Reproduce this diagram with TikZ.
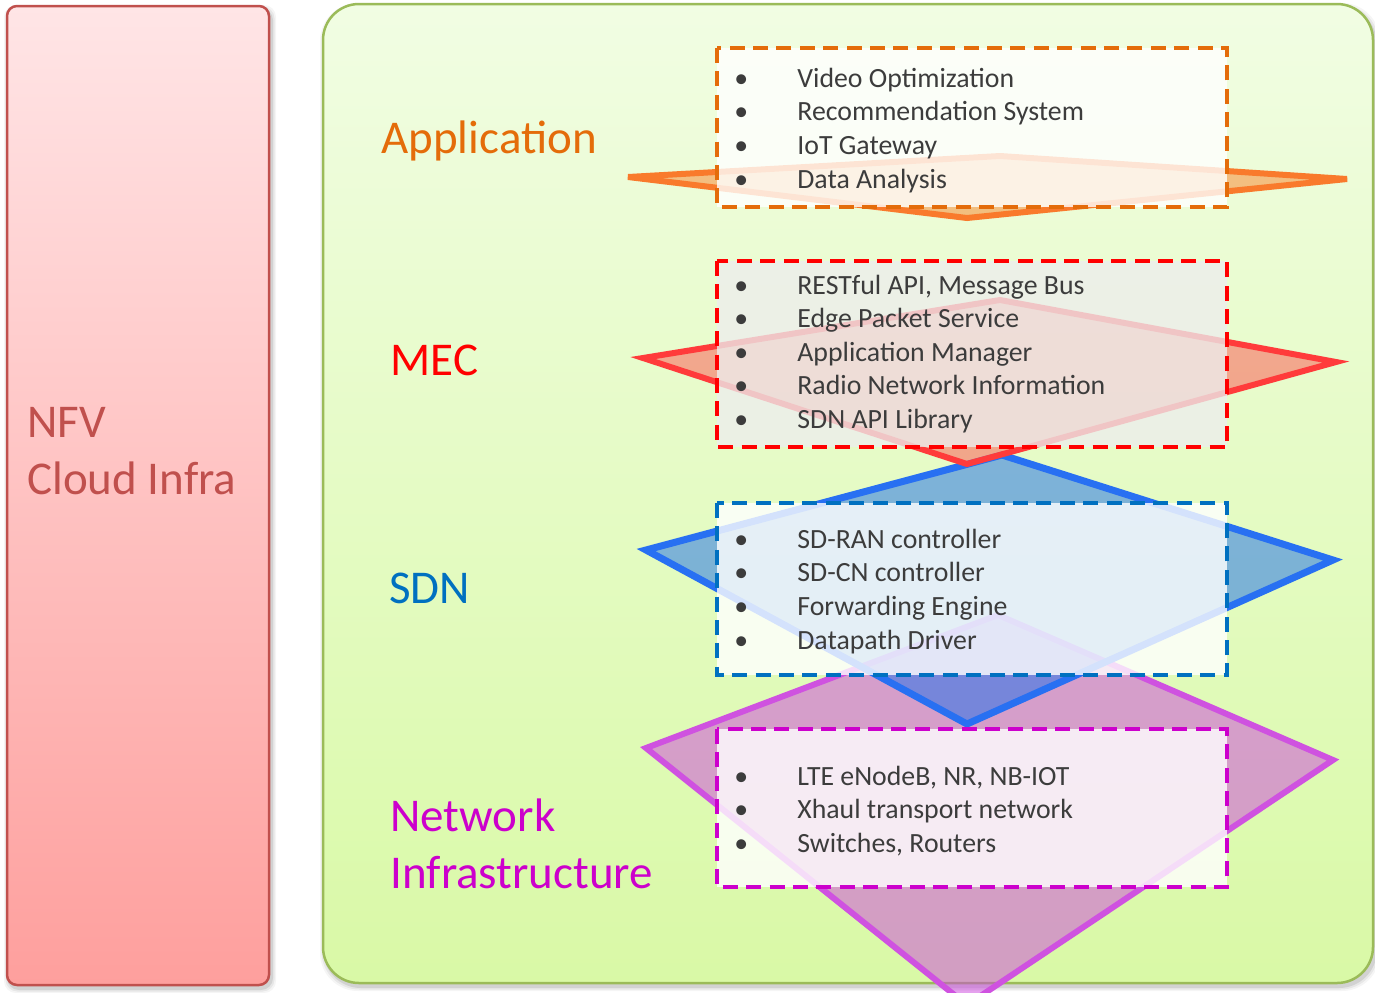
\documentclass[tikz,border=0pt]{standalone}
\usepackage{fontspec}
\setmainfont{Carlito}
\definecolor{txt}{HTML}{3C3C3C}
\definecolor{nfvC}{HTML}{C0504D}
\definecolor{appC}{HTML}{E46C0A}
\definecolor{mecC}{HTML}{FF0000}
\definecolor{sdnC}{HTML}{0070C0}
\definecolor{infC}{HTML}{CC00CC}
\definecolor{pinkTop}{HTML}{FFE5E6}
\definecolor{pinkBot}{HTML}{FE9F9D}
\definecolor{greenTop}{HTML}{F1FDE3}
\definecolor{greenBot}{HTML}{D9F9A6}
\definecolor{greenEdge}{HTML}{9BBB59}
\definecolor{oEdge}{HTML}{F97A2C}
\definecolor{oFill}{HTML}{F79646}
\definecolor{rEdge}{HTML}{FF3B3B}
\definecolor{rFill}{HTML}{FF4040}
\definecolor{bEdge}{HTML}{2870F2}
\definecolor{bFill}{HTML}{1F70EA}
\definecolor{mEdge}{HTML}{CF52E0}
\definecolor{mFill}{HTML}{CC44DD}
\newcommand\blt{\makebox[0pt]{•}\hspace{28pt}}
\begin{document}
\begin{tikzpicture}[x=0.5pt, y=-0.5pt,
  item/.style={anchor=base west, inner sep=0pt, text=txt,
    font=\fontsize{13.9}{16.8}\selectfont},
  layer/.style={anchor=base west, inner sep=0pt,
    font=\fontsize{23.5}{28.5}\selectfont},
  listbox/.style={line width=1.7pt, dash pattern=on 7.5pt off 4.2pt,
    fill=white, fill opacity=0.8},
  gem/.style={line width=3pt},
  shadowlayer/.style={fill=black, draw=none}]
\useasboundingbox (0,0) rectangle (1375,992);
\clip (0,0) rectangle (1375,992);

% soft shadows under the two panels
\foreach \d/\o in {5/0.04, 3.5/0.06, 2/0.09} {
  \fill[shadowlayer, opacity=\o, rounded corners=6pt]
    (7-\d+2,6-\d+4) rectangle (269+\d+2,985+\d+3);
  \fill[shadowlayer, opacity=\o, rounded corners=19pt]
    (323-\d+2,4-\d+4) rectangle (1373+\d+2,983+\d+3);
}

% NFV cloud infrastructure panel
\shade[top color=pinkTop, bottom color=pinkBot, rounded corners=5pt]
  (7,6) rectangle (269,985);
\draw[nfvC, line width=1.25pt, rounded corners=5pt]
  (7,6) rectangle (269,985);

% layered stack panel
\shade[top color=greenTop, bottom color=greenBot, rounded corners=18pt]
  (323,4) rectangle (1373,983);
\draw[greenEdge, line width=1.25pt, rounded corners=18pt]
  (323,4) rectangle (1373,983);

% layer diamonds, lowest first
\filldraw[gem, draw=mEdge, fill=mFill, fill opacity=0.5]
  (646,748) -- (998,615) -- (1333,760) -- (967,1005) -- cycle;
\filldraw[gem, line width=3.5pt, draw=bEdge, fill=bFill, fill opacity=0.52]
  (646,550) -- (1002,455) -- (1333,560) -- (967,724) -- cycle;
\filldraw[gem, draw=rEdge, fill=rFill, fill opacity=0.45]
  (643,358) -- (1000,300) -- (1336,362) -- (967,464) -- cycle;
\filldraw[gem, draw=oEdge, fill=oFill, fill opacity=0.6]
  (628,177) -- (1000,156) -- (1347,179) -- (967,218) -- cycle;

% dashed item lists
\draw[listbox, draw=appC] (717,48) rectangle (1227,207);
\draw[listbox, draw=mecC, fill=black!7, fill opacity=0.78] (717,261) rectangle (1227,447);
\draw[listbox, draw=sdnC] (717,503) rectangle (1227,675);
\draw[listbox, draw=infC] (717,729) rectangle (1227,887);

% layer names
\node[layer, text=nfvC] (nfv) at (27,437) {NFV};
\node[layer, text=nfvC] (cloud) at (27,494) {Cloud Infra};
\node[layer, text=appC] (app) at (381,153) {Application};
\node[layer, text=mecC] (mec) at (390,375) {MEC};
\node[layer, text=sdnC] (sdn) at (389,603) {SDN};
\node[layer, text=infC] (net) at (390,831) {Network};
\node[layer, text=infC] (infra) at (390,888) {Infrastructure};

% list entries
\foreach \t [count=\i from 0] in {Video Optimization, Recommendation System,
    IoT Gateway, Data Analysis}
  \node[item] (app-\i) at (741,{87+33.7*\i}) {\blt\t};
\foreach \t [count=\i from 0] in {{RESTful API, Message Bus}, Edge Packet Service,
    Application Manager, Radio Network Information, SDN API Library}
  \node[item] (mec-\i) at (741,{294+33.6*\i}) {\blt\t};
\foreach \t [count=\i from 0] in {SD-RAN controller, SD-CN controller,
    Forwarding Engine, Datapath Driver}
  \node[item] (sdn-\i) at (741,{548+33.7*\i}) {\blt\t};
\foreach \t [count=\i from 0] in {{LTE eNodeB, NR, NB-IOT},
    Xhaul transport network, {Switches, Routers}}
  \node[item] (inf-\i) at (741,{785+33.6*\i}) {\blt\t};
\end{tikzpicture}
\end{document}
